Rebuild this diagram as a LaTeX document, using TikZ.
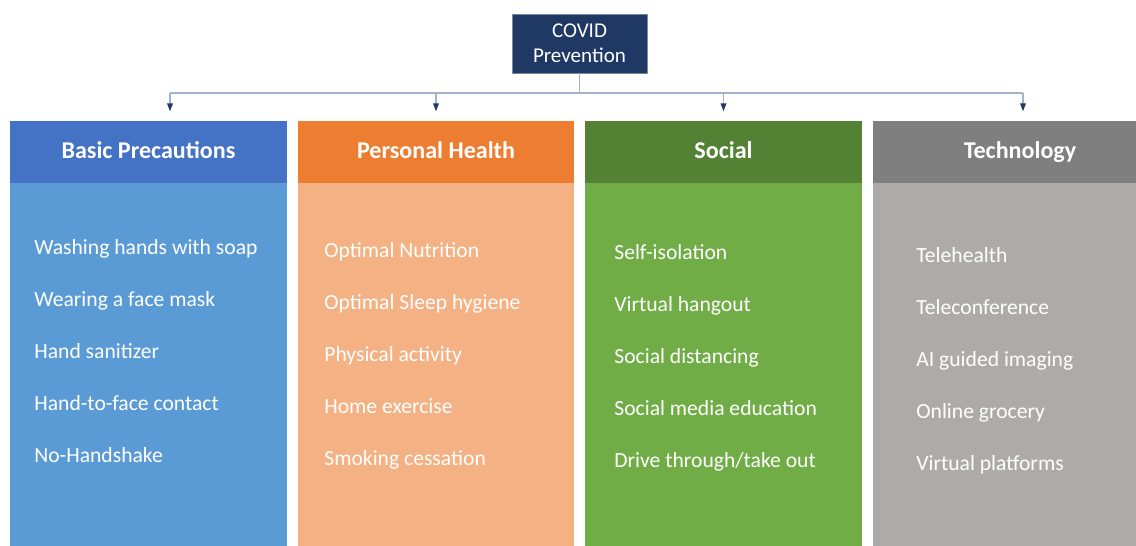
\documentclass[tikz,border=0pt]{standalone}
\usepackage{fontspec}
\setmainfont{Carlito}
\usepackage{xcolor}
\usepackage{tikz}
\usetikzlibrary{arrows.meta,positioning}

\definecolor{navy}{HTML}{203864}
\definecolor{linkgray}{HTML}{A3B2C9}
\definecolor{blueHead}{HTML}{4472C4}
\definecolor{blueBody}{HTML}{5B9BD5}
\definecolor{orangeHead}{HTML}{ED7D31}
\definecolor{orangeBody}{HTML}{F4B183}
\definecolor{greenHead}{HTML}{548235}
\definecolor{greenBody}{HTML}{70AD47}
\definecolor{grayHead}{HTML}{7F7F7F}
\definecolor{grayBody}{HTML}{AEAAAA}

\begin{document}
\begin{tikzpicture}[x=0.02cm,y=-0.02cm,
  topbox/.style={draw=navy!60, fill=navy, text=white, minimum width=2.7cm, minimum height=1.18cm,
    inner sep=0pt, align=center, font=\fontsize{12}{14.2}\selectfont},
  headbox/.style={minimum width=5.54cm, minimum height=1.24cm, inner sep=0pt, outer sep=0pt,
    text=white, text height=9.6pt, text depth=2.7pt, font=\fontsize{13.7}{16}\selectfont\bfseries},
  bodybox/.style={minimum width=5.54cm, minimum height=7.26cm, inner sep=0pt, outer sep=0pt},
  item/.style={anchor=base west, inner sep=0pt, text=white, font=\fontsize{12.3}{14}\selectfont},
  link/.style={draw=linkgray, line width=0.75pt},
  feed/.style={link, -{Triangle[length=4.5pt,width=3.2pt,color=navy]}, shorten >=5.5pt}]
  \useasboundingbox (0,0) rectangle (1136,546);
  \clip (0,0) rectangle (1136,546);

  % Top box
  \node[topbox] (prev) at (579.5,43.5) {COVID\\Prevention};

  % Column 1 - basic precautions
  \node[headbox, fill=blueHead] (basic) at (148.5,152) {Basic Precautions};
  \node[bodybox, fill=blueBody, below=0pt of basic] (basicBody) {};
  \node[item] (basic1) at (34,255) {Washing hands with soap};
  \node[item] (basic2) at (34,307) {Wearing a face mask};
  \node[item] (basic3) at (34,359) {Hand sanitizer};
  \node[item] (basic4) at (34,411) {Hand-to-face contact};
  \node[item] (basic5) at (34,463) {No-Handshake};

  % Column 2 - personal health
  \node[headbox, fill=orangeHead] (health) at (436,152) {Personal Health};
  \node[bodybox, fill=orangeBody, below=0pt of health] (healthBody) {};
  \node[item] (health1) at (324,257.5) {Optimal Nutrition};
  \node[item] (health2) at (324,309.5) {Optimal Sleep hygiene};
  \node[item] (health3) at (324,361.5) {Physical activity};
  \node[item] (health4) at (324,413.5) {Home exercise};
  \node[item] (health5) at (324,465.5) {Smoking cessation};

  % Column 3 - social
  \node[headbox, fill=greenHead] (social) at (723.5,152) {Social};
  \node[bodybox, fill=greenBody, below=0pt of social] (socialBody) {};
  \node[item] (social1) at (614,260) {Self-isolation};
  \node[item] (social2) at (614,312) {Virtual hangout};
  \node[item] (social3) at (614,364) {Social distancing};
  \node[item] (social4) at (614,416) {Social media education};
  \node[item] (social5) at (614,468) {Drive through/take out};

  % Column 4 - technology (runs past the right edge)
  \node[headbox, fill=grayHead, minimum width=5.88cm] (tech) at (1020,152) {Technology};
  \node[bodybox, fill=grayBody, minimum width=5.88cm, below=0pt of tech] (techBody) {};
  \node[item] (tech1) at (916,263) {Telehealth};
  \node[item] (tech2) at (916,315) {Teleconference};
  \node[item] (tech3) at (916,367) {AI guided imaging};
  \node[item] (tech4) at (916,419) {Online grocery};
  \node[item] (tech5) at (916,471) {Virtual platforms};

  % Connectors from the top box down to each column
  \coordinate (busL) at (170,93);
  \coordinate (busR) at (1023,93);
  \draw[link] (prev.south) -- (prev.south |- busL);
  \draw[link] (busL) -- (busR);
  \draw[feed] (busL) -- (busL |- basic.north);
  \draw[feed] (health.north |- busL) -- (health.north);
  \draw[feed] (social.north |- busL) -- (social.north);
  \draw[feed] (busR) -- (busR |- tech.north);

\end{tikzpicture}
\end{document}
